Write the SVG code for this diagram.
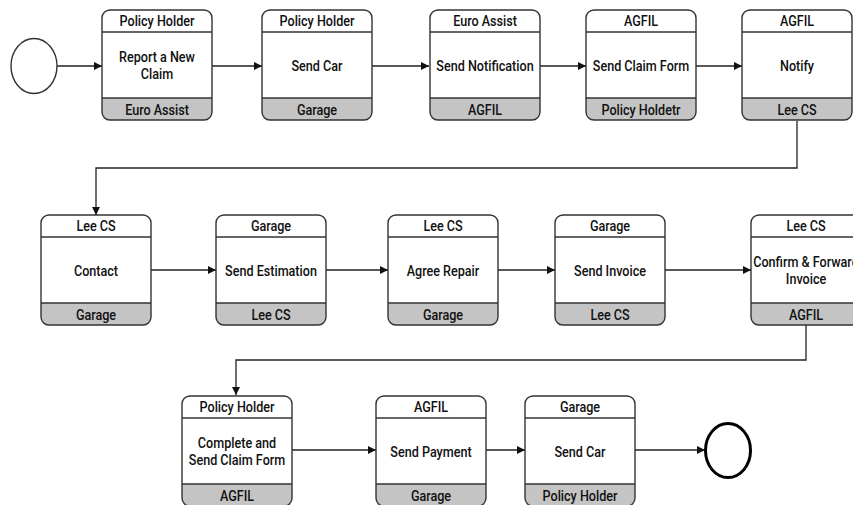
<svg xmlns="http://www.w3.org/2000/svg" width="853" height="505" viewBox="0 0 853 505">
<defs>
<style>
.box{fill:none;stroke:#333;stroke-width:1.4}
.foot{fill:#c4c4c4;stroke:none}
.sep{stroke:#333;stroke-width:1.4}
.bg{fill:#fff}
text{font-family:Roboto,"Liberation Sans",Arial,sans-serif;font-size:14px;font-weight:500;fill:#111;text-anchor:middle}
.edge{fill:none;stroke:#222;stroke-width:1.3;marker-end:url(#ah)}
</style>
<marker id="ah" markerWidth="8" markerHeight="8" refX="8" refY="4" orient="auto" markerUnits="userSpaceOnUse">
<path d="M0,0 L8,4 L0,8 z" fill="#111"/>
</marker>
<g id="shape">
<rect class="bg" x="0" y="0" width="110" height="110" rx="8"/>
<path class="foot" d="M0,88 H110 V102 A8,8 0 0 1 102,110 H8 A8,8 0 0 1 0,102 Z"/>
<rect class="box" x="0" y="0" width="110" height="110" rx="8"/>
<line class="sep" x1="0" y1="22" x2="110" y2="22"/>
<line class="sep" x1="0" y1="88" x2="110" y2="88"/>
</g>
</defs>
<rect width="853" height="505" fill="#fff"/>
<g id="connectors">
<path class="edge" d="M57,66 H102"/>
<path class="edge" d="M212,66 H262"/>
<path class="edge" d="M372,66 H429"/>
<path class="edge" d="M540,66 H586"/>
<path class="edge" d="M696,66 H742"/>
<path class="edge" d="M797,121 V168 H96 V215"/>
<path class="edge" d="M151,270 H216"/>
<path class="edge" d="M326,270 H388"/>
<path class="edge" d="M498,270 H555"/>
<path class="edge" d="M665,270 H751"/>
<path class="edge" d="M806,325 V360 H236 V395"/>
<path class="edge" d="M292,450 H376"/>
<path class="edge" d="M486,450 H525"/>
<path class="edge" d="M635,450 H705"/>
</g>
<g id="start"><ellipse cx="34" cy="66" rx="23" ry="27.5" fill="#fff" stroke="#333" stroke-width="1.4"/></g>
<g id="end"><ellipse cx="728" cy="450.5" rx="22.5" ry="27" fill="#fff" stroke="#000" stroke-width="3"/></g>

<g id="n1" transform="translate(102,10)"><use href="#shape"/><g transform="translate(55,0) scale(0.9,1)"><text y="16">Policy Holder</text><text y="52">Report a New</text><text y="69">Claim</text><text y="105">Euro Assist</text></g></g>
<g id="n2" transform="translate(262,10)"><use href="#shape"/><g transform="translate(55,0) scale(0.9,1)"><text y="16">Policy Holder</text><text y="61">Send Car</text><text y="105">Garage</text></g></g>
<g id="n3" transform="translate(430,10)"><use href="#shape"/><g transform="translate(55,0) scale(0.9,1)"><text y="16">Euro Assist</text><text y="61">Send Notification</text><text y="105">AGFIL</text></g></g>
<g id="n4" transform="translate(586,10)"><use href="#shape"/><g transform="translate(55,0) scale(0.9,1)"><text y="16">AGFIL</text><text y="61">Send Claim Form</text><text y="105">Policy Holdetr</text></g></g>
<g id="n5" transform="translate(742,10)"><use href="#shape"/><g transform="translate(55,0) scale(0.9,1)"><text y="16">AGFIL</text><text y="61">Notify</text><text y="105">Lee CS</text></g></g>

<g id="n6" transform="translate(41,215)"><use href="#shape"/><g transform="translate(55,0) scale(0.9,1)"><text y="16">Lee CS</text><text y="61">Contact</text><text y="105">Garage</text></g></g>
<g id="n7" transform="translate(216,215)"><use href="#shape"/><g transform="translate(55,0) scale(0.9,1)"><text y="16">Garage</text><text y="61">Send Estimation</text><text y="105">Lee CS</text></g></g>
<g id="n8" transform="translate(388,215)"><use href="#shape"/><g transform="translate(55,0) scale(0.9,1)"><text y="16">Lee CS</text><text y="61">Agree Repair</text><text y="105">Garage</text></g></g>
<g id="n9" transform="translate(555,215)"><use href="#shape"/><g transform="translate(55,0) scale(0.9,1)"><text y="16">Garage</text><text y="61">Send Invoice</text><text y="105">Lee CS</text></g></g>
<g id="n10" transform="translate(751,215)"><use href="#shape"/><g transform="translate(55,0) scale(0.9,1)"><text y="16">Lee CS</text><text y="52">Confirm &amp; Forward</text><text y="69">Invoice</text><text y="105">AGFIL</text></g></g>

<g id="n11" transform="translate(182,396)"><use href="#shape"/><g transform="translate(55,0) scale(0.9,1)"><text y="16">Policy Holder</text><text y="52">Complete and</text><text y="69">Send Claim Form</text><text y="105">AGFIL</text></g></g>
<g id="n12" transform="translate(376,396)"><use href="#shape"/><g transform="translate(55,0) scale(0.9,1)"><text y="16">AGFIL</text><text y="61">Send Payment</text><text y="105">Garage</text></g></g>
<g id="n13" transform="translate(525,396)"><use href="#shape"/><g transform="translate(55,0) scale(0.9,1)"><text y="16">Garage</text><text y="61">Send Car</text><text y="105">Policy Holder</text></g></g>
</svg>
